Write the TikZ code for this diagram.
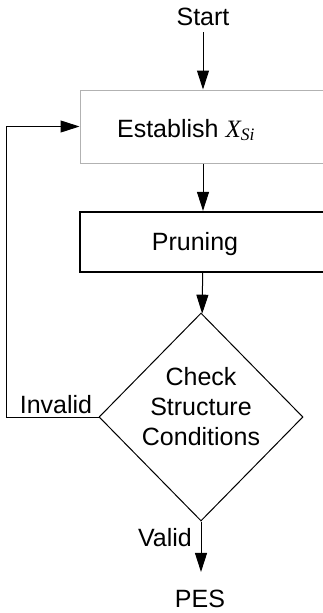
\documentclass[tikz,border=0pt]{standalone}
\usepackage{fontspec}
\setmainfont{Liberation Sans}
\newfontfamily\timesfont{Liberation Serif}
\usetikzlibrary{shapes.geometric,arrows.meta}
\begin{document}
\begin{tikzpicture}[x=1pt,y=-1pt,
  lbl/.style={font=\fontsize{25}{30}\selectfont, inner sep=0pt},
  flow/.style={-{Triangle[length=19pt,width=12pt]}, line width=1pt},
  estbox/.style={draw=gray!60, line width=1pt, minimum width=246pt, minimum height=73pt, inner sep=0pt},
  prunebox/.style={draw=black, line width=2.2pt, minimum width=246pt, minimum height=60pt, inner sep=0pt},
  decision/.style={shape=diamond, draw=black, line width=1pt, minimum width=204pt, minimum height=208pt, inner sep=0pt}]
\useasboundingbox (0,0) rectangle (323,613);
\clip (0,0) rectangle (323,613);
\node[estbox] (est) at (203,126.5) {};
\node[prunebox] (prn) at (203,242) {};
\node[decision] (dia) at (201,417) {};
\node[lbl, inner sep=6pt] (start) at (203,17) {Start};
\node[lbl, anchor=base] (esttxt) at (186,137) {Establish {\timesfont\itshape X\textsubscript{Si}}};
\node[lbl, anchor=base] (prntxt) at (195,250) {Pruning};
\node[lbl, align=center] (chk) at (201,407) {Check\\Structure\\Conditions};
\node[lbl] (inv) at (56,405) {Invalid};
\node[lbl] (val) at (165,538) {Valid};
\node[lbl, inner ysep=18pt] (pes) at (200,599) {PES};
\coordinate (lp) at (6,417);
\draw[flow] (start) -- (est);
\draw[flow] (est) -- (prn);
\draw[flow] (prn) -- (dia);
\draw[flow] (dia.west) -- (lp) |- (est.west);
\draw[flow] (dia.south) -- (dia.south |- pes.north);
\end{tikzpicture}
\end{document}
